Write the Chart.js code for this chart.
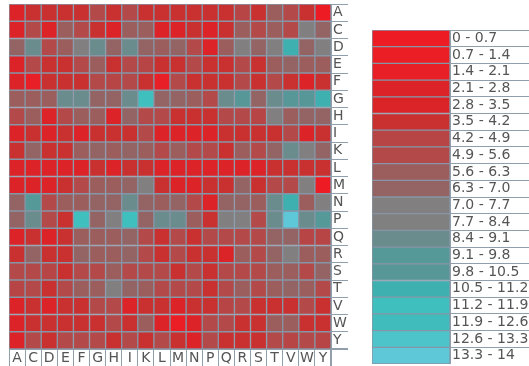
<!DOCTYPE html>
<html>
<head>
<meta charset="utf-8">
<script src="https://cdn.jsdelivr.net/npm/chart.js@4.4.1/dist/chart.umd.min.js"></script>
<style>
  html, body { margin: 0; padding: 0; background: #fff; width: 529px; height: 366px; overflow: hidden; }
  #grid { position: absolute; left: 9px; top: 4px; }
  #key { position: absolute; left: 372px; top: 30px; }
</style>
</head>
<body>
<canvas id="grid" width="339" height="362"></canvas>
<canvas id="key" width="157" height="334"></canvas>
<script>
// Residue order used for both rows (top to bottom) and columns (left to right)
const residues = ['A','C','D','E','F','G','H','I','K','L','M','N','P','Q','R','S','T','V','W','Y'];

// Pairwise scores, one array per row residue, columns in residue order
const rowA = [2.5,3.9,3.9,3.9,3.9,5.3,3.9,5.3,3.9,3.9,3.9,3.9,3.9,3.9,4.6,3.9,6.0,5.3,3.9,0.4];
const rowC = [2.5,5.3,2.5,6.0,5.3,3.9,2.5,6.0,6.0,2.5,2.5,3.9,2.5,3.9,6.0,5.3,6.0,5.3,7.4,6.7];
const rowD = [6.7,8.8,5.3,6.0,7.4,8.8,6.7,8.8,6.7,6.0,6.7,5.3,2.5,6.0,7.4,6.7,7.4,10.9,6.7,7.4];
const rowE = [2.5,5.3,3.9,3.9,5.3,6.0,3.9,5.3,4.6,3.9,3.9,5.3,3.9,3.9,5.3,3.9,6.0,6.7,6.0,6.0];
const rowF = [2.5,1.8,3.9,3.9,3.9,5.3,4.6,5.3,3.9,1.8,5.3,3.9,3.9,3.9,5.3,3.9,5.3,3.9,2.5,3.9];
const rowG = [6.0,6.0,6.0,8.8,8.8,6.7,6.7,8.8,11.6,6.7,6.7,6.0,5.3,8.8,10.2,6.7,8.8,10.2,10.2,10.9];
const rowH = [5.3,6.0,2.5,5.3,6.0,6.0,2.5,6.7,5.3,5.3,3.9,3.9,3.9,5.3,5.3,4.6,7.4,6.0,6.7,6.7];
const rowI = [2.5,3.9,2.5,3.9,2.5,3.9,3.9,3.9,5.3,2.5,2.5,2.5,2.5,3.9,3.9,3.9,3.9,5.3,2.5,3.9];
const rowK = [3.9,6.7,3.9,3.9,6.0,6.7,6.0,6.7,6.0,5.3,6.0,5.3,5.3,3.9,6.0,5.3,6.7,8.8,7.4,6.7];
const rowL = [2.5,2.5,2.5,2.5,2.5,3.9,2.5,3.9,3.9,2.5,2.5,2.5,2.5,2.5,2.5,2.5,3.9,3.9,3.9,3.9];
const rowM = [2.5,2.5,2.5,3.9,5.3,6.0,6.0,6.7,7.4,3.9,2.5,2.5,3.9,3.9,6.7,3.9,5.3,5.3,7.4,0.4];
const rowN = [6.7,9.5,5.3,6.0,6.0,6.7,6.7,8.8,6.7,6.0,6.7,5.3,2.5,6.7,6.7,6.0,8.8,10.9,6.0,7.4];
const rowP = [6.7,8.8,5.3,3.9,11.6,6.7,7.4,11.6,6.7,8.8,8.8,6.0,3.9,7.4,7.4,5.3,8.8,13.6,8.8,9.5];
const rowQ = [2.5,3.9,2.5,3.9,6.0,6.0,6.0,6.7,5.3,3.9,5.3,3.9,5.3,5.3,5.3,5.3,6.7,6.7,4.6,4.6];
const rowR = [3.9,6.7,3.9,3.9,6.7,6.0,6.0,6.7,5.3,3.9,5.3,3.9,3.9,3.2,6.0,5.3,6.7,7.4,6.0,6.0];
const rowS = [5.3,5.3,4.6,3.9,5.3,5.3,6.0,5.3,5.3,5.3,3.9,5.3,3.9,5.3,5.3,5.3,6.0,6.0,5.3,6.7];
const rowT = [4.6,5.3,3.9,5.3,6.0,6.0,7.4,6.7,6.0,5.3,5.3,5.3,3.9,5.3,6.0,5.3,6.0,6.7,6.0,5.3];
const rowV = [2.5,3.9,2.5,3.9,3.9,5.3,5.3,2.5,3.9,3.9,2.5,3.9,3.9,4.6,5.3,3.9,3.9,3.9,5.3,3.9];
const rowW = [2.5,3.9,3.9,3.9,3.9,3.9,5.3,3.9,6.0,2.5,1.0,2.5,5.3,5.3,3.9,3.9,6.0,6.0,3.9,3.9];
const rowY = [2.5,5.3,3.9,5.3,5.3,5.3,3.9,5.3,3.9,5.3,3.9,2.5,5.3,3.9,3.9,3.9,5.3,4.6,5.3,4.6];

const rows = [rowA,rowC,rowD,rowE,rowF,rowG,rowH,rowI,rowK,rowL,rowM,rowN,rowP,rowQ,rowR,rowS,rowT,rowV,rowW,rowY];

// Colour key: 20 bins of width 0.7 from 0 to 14
const binLabels = ['0 - 0.7','0.7 - 1.4','1.4 - 2.1','2.1 - 2.8','2.8 - 3.5','3.5 - 4.2','4.2 - 4.9',
  '4.9 - 5.6','5.6 - 6.3','6.3 - 7.0','7.0 - 7.7','7.7 - 8.4','8.4 - 9.1','9.1 - 9.8','9.8 - 10.5',
  '10.5 - 11.2','11.2 - 11.9','11.9 - 12.6','12.6 - 13.3','13.3 - 14'];
const binColors = ['#ed1c24','#eb1e25','#e81f26','#dc2328','#da2428','#c93131','#b84545',
  '#b44949','#9c5d5d','#946464','#817f7f','#808080','#6a8c8c','#569999','#589797',
  '#3fb0b0','#40bfbf','#40bcbc','#4cc4ca','#5ec8d8'];
const binWidth = 0.7;

const LINE = '#8796a6';
const FRAME = '#919eac';
const FONT = { family: 'DejaVu Sans', size: 14 };
const TEXT = '#555';

function colorFor(v) {
  const b = Math.min(binColors.length - 1, Math.floor(v / binWidth + 1e-9));
  return binColors[b];
}

// Outline the label strips so every tick label sits in its own box
const frames = {
  id: 'frames',
  afterDraw(chart, args, opts) {
    const ctx = chart.ctx;
    ctx.save();
    ctx.strokeStyle = FRAME;
    ctx.lineWidth = 1;
    (opts.boxes || []).forEach(fn => {
      const r = fn(chart);
      ctx.strokeRect(Math.round(r.l) + 0.5, Math.round(r.t) + 0.5,
                     Math.round(r.r - r.l) - 1, Math.round(r.b - r.t) - 1);
    });
    ctx.restore();
  }
};

// Heat map: one stacked bar per column, one dataset per row residue
new Chart(document.getElementById('grid'), {
  type: 'bar',
  data: {
    labels: residues,
    datasets: rows.map((vals, i) => ({
      label: residues[i],
      data: vals.map(() => 1),
      backgroundColor: vals.map(colorFor),
      borderColor: LINE,
      borderWidth: 1,
      borderSkipped: false,
      barPercentage: 1,
      categoryPercentage: 1,
      stack: 'cells'
    }))
  },
  options: {
    responsive: false,
    animation: false,
    events: [],
    layout: { padding: 0 },
    plugins: {
      legend: { display: false },
      tooltip: { enabled: false },
      frames: {
        boxes: [
          c => ({ l: c.scales.rows.left, t: c.scales.rows.top, r: c.scales.rows.right + 1, b: c.scales.rows.bottom }),
          c => ({ l: c.scales.x.left, t: c.scales.x.top, r: c.scales.x.right, b: c.scales.x.bottom + 1 }),
          c => ({ l: c.scales.rows.left, t: c.scales.x.top, r: c.scales.rows.right + 1, b: c.scales.x.bottom + 1 })
        ]
      }
    },
    scales: {
      x: {
        stacked: true,
        offset: true,
        grid: { offset: true, color: FRAME, tickLength: 17, drawOnChartArea: false },
        border: { color: FRAME },
        ticks: { font: FONT, color: TEXT, padding: -16, maxRotation: 0, autoSkip: false },
        afterFit: s => { s.height = 17; }
      },
      y: {
        stacked: true,
        reverse: true,
        min: 0,
        max: residues.length,
        display: false
      },
      rows: {
        type: 'category',
        labels: residues,
        position: 'right',
        offset: true,
        grid: { offset: true, color: FRAME, tickLength: 17, drawOnChartArea: false },
        border: { color: FRAME },
        ticks: { font: FONT, color: TEXT, padding: -15, crossAlign: 'near', autoSkip: false },
        afterFit: s => { s.width = 17; }
      }
    }
  },
  plugins: [frames]
});

// Colour key: one full-width bar per bin with its range as the tick label
new Chart(document.getElementById('key'), {
  type: 'bar',
  data: {
    labels: binLabels,
    datasets: [{
      data: binLabels.map(() => 1),
      backgroundColor: binColors,
      borderColor: LINE,
      borderWidth: 1,
      borderSkipped: false,
      barPercentage: 1,
      categoryPercentage: 1
    }]
  },
  options: {
    indexAxis: 'y',
    responsive: false,
    animation: false,
    events: [],
    layout: { padding: 0 },
    plugins: {
      legend: { display: false },
      tooltip: { enabled: false },
      frames: {
        boxes: [
          c => ({ l: c.scales.y.left, t: c.scales.y.top, r: c.scales.y.right + 1, b: c.scales.y.bottom + 1 })
        ]
      }
    },
    scales: {
      x: { min: 0, max: 1, display: false },
      y: {
        position: 'right',
        offset: true,
        grid: { offset: true, color: FRAME, tickLength: 79, drawOnChartArea: false },
        border: { color: FRAME },
        ticks: { font: FONT, color: TEXT, padding: -77, crossAlign: 'near', autoSkip: false },
        afterFit: s => { s.width = 79; }
      }
    }
  },
  plugins: [frames]
});
</script>
</body>
</html>
